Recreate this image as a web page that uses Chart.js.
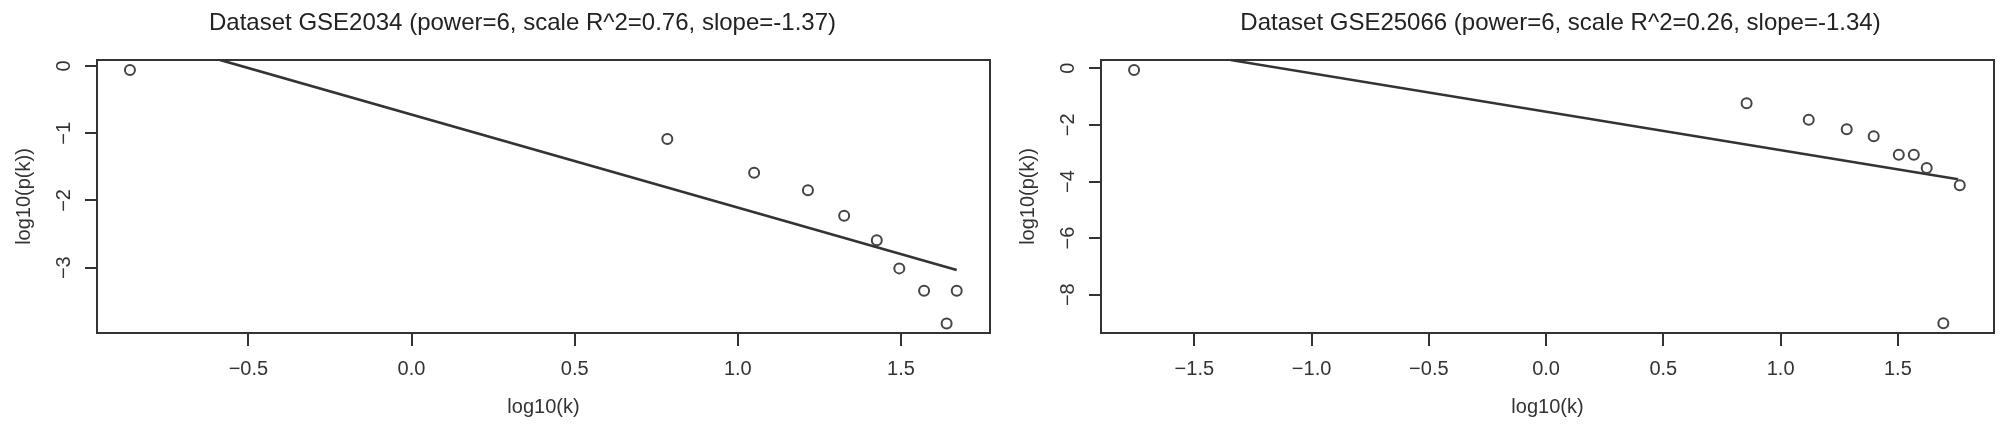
<!DOCTYPE html>
<html>
<head>
<meta charset="utf-8">
<script src="https://cdn.jsdelivr.net/npm/chart.js@4"></script>
<style>
  html, body { margin: 0; padding: 0; background: #fff; overflow: hidden; width: 2008px; height: 431px; }
  canvas { position: absolute; top: 0; }
  #left { left: 0; }
  #right { left: 1004px; }
</style>
</head>
<body>
<canvas id="left" width="1045" height="431"></canvas>
<canvas id="right" width="1113" height="431"></canvas>
<script>
// GSE2034 : log10(k) / log10(p(k))
const titleGSE2034 = 'Dataset GSE2034 (power=6, scale R^2=0.76, slope=-1.37)'
const logK_GSE2034 = [-0.863, 0.784, 1.050, 1.215, 1.326, 1.426, 1.495, 1.571, 1.640, 1.671]
const logP_GSE2034 = [-0.06, -1.086, -1.587, -1.849, -2.226, -2.593, -3.010, -3.342, -3.828, -3.342]
const fitX_GSE2034 = [-0.587, 1.671]
const fitY_GSE2034 = [0.09, -3.034]
const xTicks_GSE2034 = [-0.5, 0, 0.5, 1, 1.5]
const yTicks_GSE2034 = [0, -1, -2, -3]

// GSE25066
const titleGSE25066 = 'Dataset GSE25066 (power=6, scale R^2=0.26, slope=-1.34)'
const logK_GSE25066 = [-1.757, 0.855, 1.120, 1.282, 1.397, 1.504, 1.568, 1.623, 1.694, 1.764]
const logP_GSE25066 = [-0.06, -1.237, -1.815, -2.157, -2.403, -3.053, -3.053, -3.523, -9.011, -4.134]
const fitX_GSE25066 = [-1.345, 1.757]
const fitY_GSE25066 = [0.29, -3.92]
const xTicks_GSE25066 = [-1.5, -1, -0.5, 0, 0.5, 1, 1.5]
const yTicks_GSE25066 = [0, -2, -4, -6, -8]

Chart.defaults.font.family = '"Liberation Sans", Arial, sans-serif'
Chart.defaults.color = '#222'

const ink = '#333'
const minus = s => s.replace('-', '\u2212')

// cadre complet autour de la zone de tracé (style R)
const framePlugin = {
    id: 'frame',
    afterDraw(chart) {
        const { ctx, chartArea: a } = chart
        ctx.save()
        ctx.strokeStyle = ink
        ctx.lineWidth = 2
        ctx.strokeRect(a.left, a.top, a.right - a.left, a.bottom - a.top)
        ctx.restore()
    }
}

function drawPanel(canvasId, title, xs, ys, fitX, fitY, xTicks, yTicks, xRange, yRange, rightPad){
    const points = xs.map((x, i) => ({ x: x, y: ys[i] }))
    const fit = fitX.map((x, i) => ({ x: x, y: fitY[i] }))
    const tickGrid = len => ({ drawOnChartArea: false, drawTicks: true, tickLength: len, color: ink, lineWidth: 2 })

    const config = {
        type: 'scatter',
        data: {
            datasets: [{
                data: points,
                yAxisID: 'y',
                pointStyle: 'circle',
                pointRadius: 5,
                pointBorderWidth: 2,
                pointBorderColor: '#444',
                pointBackgroundColor: 'rgba(0,0,0,0)',
                showLine: false
            }, {
                data: fit,
                yAxisID: 'y',
                showLine: true,
                borderColor: ink,
                borderWidth: 2.6,
                pointRadius: 0
            }]
        },
        options: {
            responsive: false,
            animation: false,
            plugins: {
                legend: { display: false },
                tooltip: { enabled: false },
                title: {
                    display: true, text: title, color: '#222',
                    font: { size: 24, weight: 'normal' },
                    padding: { top: 9, bottom: 22.2 }
                }
            },
            scales: {
                x: {
                    type: 'linear', position: 'bottom', min: xRange[0], max: xRange[1],
                    afterBuildTicks: s => { s.ticks = xTicks.map(v => ({ value: v })) },
                    afterFit: s => { s.height = 98 },
                    grid: tickGrid(13),
                    border: { display: false },
                    ticks: { color: ink, font: { size: 20 }, padding: 11, maxRotation: 0, autoSkip: false,
                             callback: v => minus(v.toFixed(1)) },
                    title: { display: true, text: 'log10(k)', color: ink, font: { size: 20 }, padding: { top: 0, bottom: 12 } }
                },
                y: {
                    type: 'linear', position: 'left', min: yRange[0], max: yRange[1],
                    afterBuildTicks: s => { s.ticks = yTicks.map(v => ({ value: v })) },
                    afterFit: s => { s.width = 97 },
                    grid: tickGrid(12),
                    border: { display: false },
                    ticks: { color: ink, font: { size: 20 }, padding: 9, minRotation: 90, maxRotation: 90,
                             crossAlign: 'center', autoSkip: false, callback: v => minus(String(v)) },
                    title: { display: true, text: 'log10(p(k))', color: ink, font: { size: 20 }, padding: { top: 12, bottom: 0 } }
                },
                pad: {
                    axis: 'y', type: 'linear', position: 'right', display: true,
                    grid: { display: false }, border: { display: false }, ticks: { display: false },
                    afterFit: s => { s.width = rightPad }
                }
            }
        },
        plugins: [framePlugin]
    }
    return new Chart(document.getElementById(canvasId), config)
}

drawPanel('left', titleGSE2034, logK_GSE2034, logP_GSE2034, fitX_GSE2034, fitY_GSE2034,
          xTicks_GSE2034, yTicks_GSE2034, [-0.964, 1.773], [-3.971, 0.089], 55)
drawPanel('right', titleGSE25066, logK_GSE25066, logP_GSE25066, fitX_GSE25066, fitY_GSE25066,
          xTicks_GSE25066, yTicks_GSE25066, [-1.898, 1.910], [-9.353, 0.293], 123)
</script>
</body>
</html>
